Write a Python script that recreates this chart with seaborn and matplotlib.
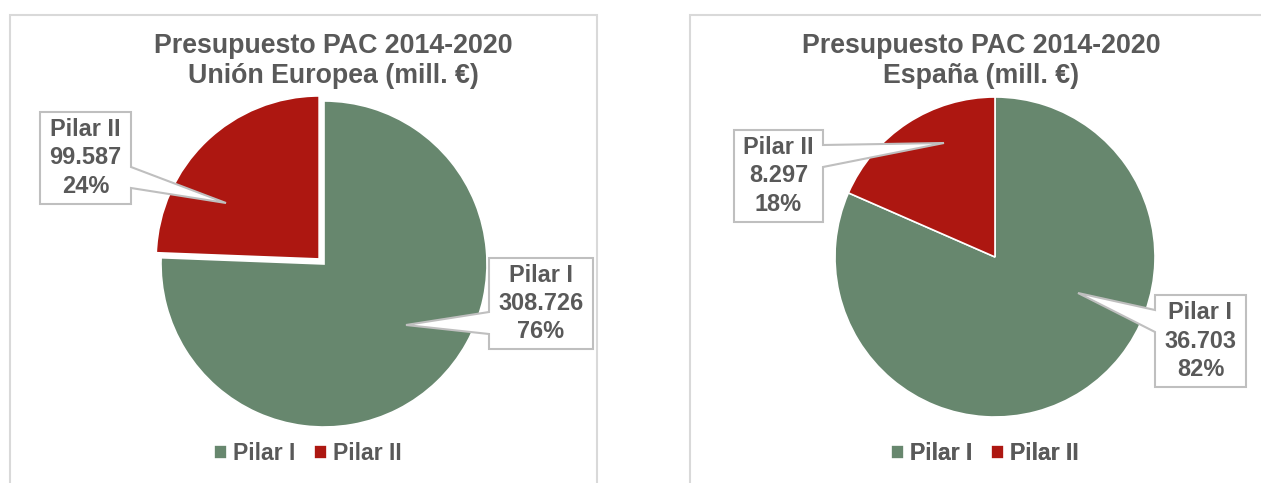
# Import Libraries
import seaborn as sns
import matplotlib.pyplot as plt
from matplotlib.patches import Polygon, Rectangle

# Data (mill. EUR)
categories = ["Pilar I", "Pilar II"]
ue_values = [308726, 99587]
es_values = [36703, 8297]
title_top = "Presupuesto PAC 2014-2020"
subtitles = ["Unión Europea (mill. €)", "España (mill. €)"]
colors = ["#67876E", "#AD1711"]

# Style
sns.set_theme(style="white")
plt.rcParams['font.family'] = ['Liberation Sans', 'DejaVu Sans']

W, H = 1261, 483
TEXT = "#595959"
EDGE = "#BFBFBF"
FRAME = "#D9D9D9"
PX = 72 / 100  # points per pixel


def fmt(v):
    return f"{v:,}".replace(",", ".")


def fy(v):
    # image row -> axis y
    return H - v


# Layout in pixels (image coords)
panels = [
    dict(values=ue_values, subtitle=subtitles[0], frame=(10, 15, 587),
         center=(324, 264), r=163, explode=[0, 7], title_x=333, legend_x=308,
         boxes=[(489, 258, 593, 349, "left", 312, 334, (406, 325)),
                (40, 112, 131, 204, "right", 167, 188, (226, 203))]),
    dict(values=es_values, subtitle=subtitles[1], frame=(690, 15, 600),
         center=(995, 257), r=160, explode=[0, 0], title_x=981, legend_x=985,
         boxes=[(1155, 295, 1246, 387, "left", 310, 332, (1078, 293)),
                (734, 130, 823, 222, "right", 145, 167, (944, 143))]),
]

fig = plt.figure(figsize=(W / 100, H / 100), dpi=100)
ax = fig.add_axes([0, 0, 1, 1])

for p in panels:
    # panel border
    fx, ftop, fw = p["frame"]
    ax.add_patch(Rectangle((fx, fy(H + 20)), fw, H + 20 - ftop, fill=False,
                           edgecolor=FRAME, lw=1.5, zorder=0))

    # pie
    cx, cy = p["center"]
    wedges, _ = ax.pie(p["values"], colors=colors, startangle=90, counterclock=False,
                       center=(cx, fy(cy)), radius=p["r"], explode=p["explode"],
                       wedgeprops=dict(edgecolor="white", linewidth=1.2))
    for w in wedges:
        w.set_zorder(2)

    # title
    ax.text(p["title_x"], fy(61), f"{title_top}\n{p['subtitle']}", ha="center", va="center",
            multialignment="center", fontsize=26.8 * PX, fontweight="bold", color=TEXT,
            linespacing=1.24, zorder=5)

    # callout labels
    total = sum(p["values"])
    for cat, val, box in zip(categories, p["values"], p["boxes"]):
        x0, y0, x1, y1, side, b0, b1, tip = box
        if side == "left":
            verts = [(x0, y0), (x1, y0), (x1, y1), (x0, y1), (x0, b1), tip, (x0, b0)]
        else:
            verts = [(x0, y0), (x1, y0), (x1, b0), tip, (x1, b1), (x1, y1), (x0, y1)]
        verts = [(vx, fy(vy)) for vx, vy in verts]
        ax.add_patch(Polygon(verts, closed=True, facecolor="white", edgecolor=EDGE,
                             lw=1.5, zorder=3))
        pct = round(100 * val / total)
        ax.text((x0 + x1) / 2, fy((y0 + y1) / 2), f"{cat}\n{fmt(val)}\n{pct}%",
                ha="center", va="center", multialignment="center", fontsize=23.5 * PX,
                fontweight="bold", color=TEXT, linespacing=1.3, zorder=4)

    # legend
    leg = ax.legend(wedges, categories, loc="center", bbox_to_anchor=(p["legend_x"], fy(454)),
                    bbox_transform=ax.transData, ncol=2, frameon=False,
                    prop=dict(size=23 * PX, weight="bold"), handlelength=0.57,
                    handleheight=0.57, handletextpad=0.26, columnspacing=0.78,
                    borderpad=0, borderaxespad=0)
    for t in leg.get_texts():
        t.set_color(TEXT)
    ax.add_artist(leg)

ax.set_xlim(0, W)
ax.set_ylim(0, H)
ax.set_aspect("auto")
ax.set_axis_off()

plt.savefig("out.png", dpi=100)
